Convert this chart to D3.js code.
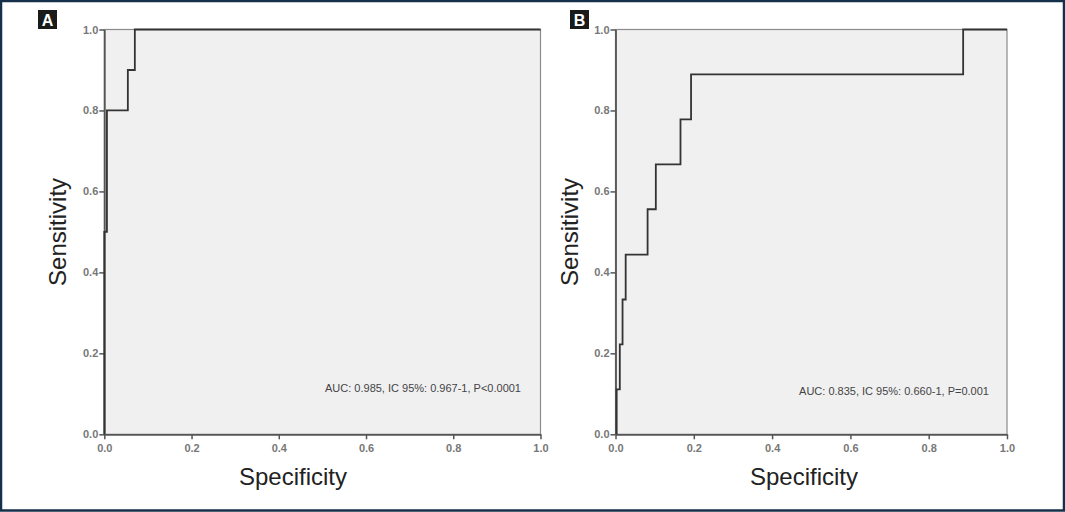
<!DOCTYPE html>
<html>
<head>
<meta charset="utf-8">
<script src="https://cdn.jsdelivr.net/npm/d3@7"></script>
<style>
  body { margin: 0; background: #fff; }
  svg { display: block; font-family: "Liberation Sans", Arial, sans-serif; }
</style>
</head>
<body>
<svg id="chart" width="1065" height="512"></svg>
<script>
// ROC curve points (x = 1 - specificity as plotted, y = sensitivity)
var fprA = [0, 0, 0.006, 0.006, 0.054, 0.054, 0.070, 0.070, 1];
var tprA = [0, 0.5, 0.5, 0.8, 0.8, 0.9, 0.9, 1, 1];

var fprB = [0.003, 0.003, 0.011, 0.011, 0.018, 0.018, 0.026, 0.026, 0.082, 0.082,
            0.103, 0.103, 0.166, 0.166, 0.193, 0.193, 0.888, 0.888, 1];
var tprB = [0, 0.111, 0.111, 0.222, 0.222, 0.333, 0.333, 0.444, 0.444, 0.556,
            0.556, 0.667, 0.667, 0.778, 0.778, 0.889, 0.889, 1, 1];

var tickVals = [0, 0.2, 0.4, 0.6, 0.8, 1.0];
var tickLabels = ["0.0", "0.2", "0.4", "0.6", "0.8", "1.0"];

var panelLetters = ["A", "B"];
var aucTexts = ["AUC: 0.985, IC 95%: 0.967-1, P<0.0001", "AUC: 0.835, IC 95%: 0.660-1, P=0.001"];

var svg = d3.select("#chart");

var panels = [
    { letter: panelLetters[0], fpr: fprA, tpr: tprA, auc: aucTexts[0],
      x0: 104.3, x1: 540.5, box: [38, 10], ylab: 58, xlab: 293, aucX: 423, aucY: 392 },
    { letter: panelLetters[1], fpr: fprB, tpr: tprB, auc: aucTexts[1],
      x0: 615.5, x1: 1007, box: [570, 10], ylab: 570, xlab: 804, aucX: 894, aucY: 395 }
];

var yTop = 29.5, yBot = 434.3;

panels.forEach(function (p) {
    var x = d3.scaleLinear().domain([0, 1]).range([p.x0, p.x1]);
    var y = d3.scaleLinear().domain([0, 1]).range([yBot, yTop]);
    var g = svg.append("g");

    // plot background + frame
    g.append("rect")
        .attr("x", p.x0).attr("y", yTop)
        .attr("width", p.x1 - p.x0).attr("height", yBot - yTop)
        .attr("fill", "#f0f0f1")
        .attr("stroke", "#8a8a8a").attr("stroke-width", 1.2);

    // axes
    var xAxis = d3.axisBottom(x).tickValues(tickVals)
        .tickFormat(function (d, i) { return tickLabels[i]; })
        .tickSize(5).tickSizeOuter(0);
    var yAxis = d3.axisLeft(y).tickValues(tickVals)
        .tickFormat(function (d, i) { return tickLabels[i]; })
        .tickSize(5).tickSizeOuter(0);

    var gx = g.append("g").attr("transform", "translate(0," + yBot + ")").call(xAxis);
    var gy = g.append("g").attr("transform", "translate(" + p.x0 + ",0)").call(yAxis);

    [gx, gy].forEach(function (a) {
        a.select(".domain").attr("stroke", "#555").attr("stroke-width", 1.8);
        a.selectAll(".tick line").attr("stroke", "#555").attr("stroke-width", 1.5);
        a.selectAll(".tick text")
            .attr("fill", "#777")
            .style("font-size", "11px")
            .style("font-weight", "bold")
            .style("font-family", "Liberation Sans, Arial, sans-serif");
    });
    gx.selectAll(".tick text").attr("dy", "0.85em");
    gy.selectAll(".tick text").attr("x", -6);

    // ROC curve
    var pts = p.fpr.map(function (v, i) { return [v, p.tpr[i]]; });
    var line = d3.line()
        .x(function (d) { return x(d[0]); })
        .y(function (d) { return y(d[1]); });
    g.append("path")
        .datum(pts)
        .attr("d", line)
        .attr("fill", "none")
        .attr("stroke", "#333")
        .attr("stroke-width", 1.8);

    // AUC note
    g.append("text")
        .attr("x", p.aucX).attr("y", p.aucY)
        .attr("text-anchor", "middle")
        .attr("fill", "#444")
        .style("font-size", "11px")
        .text(p.auc);

    // axis titles
    g.append("text")
        .attr("transform", "translate(" + p.ylab + "," + (yTop + yBot) / 2 + ") rotate(-90)")
        .attr("text-anchor", "middle")
        .attr("dy", "0.35em")
        .attr("fill", "#222")
        .style("font-size", "24px")
        .text("Sensitivity");
    g.append("text")
        .attr("x", p.xlab).attr("y", 485)
        .attr("text-anchor", "middle")
        .attr("fill", "#222")
        .style("font-size", "24px")
        .text("Specificity");

    // panel letter
    g.append("rect")
        .attr("x", p.box[0]).attr("y", p.box[1])
        .attr("width", 19).attr("height", 19)
        .attr("fill", "#1a1a1a");
    g.append("text")
        .attr("x", p.box[0] + 9.5).attr("y", p.box[1] + 16)
        .attr("text-anchor", "middle")
        .attr("fill", "#fff")
        .style("font-size", "16px")
        .style("font-weight", "bold")
        .text(p.letter);
});

// outer frame
svg.append("rect")
    .attr("x", 1).attr("y", 1)
    .attr("width", 1063).attr("height", 509.5)
    .attr("fill", "none")
    .attr("stroke", "#14304a")
    .attr("stroke-width", 2.5);
</script>
</body>
</html>
